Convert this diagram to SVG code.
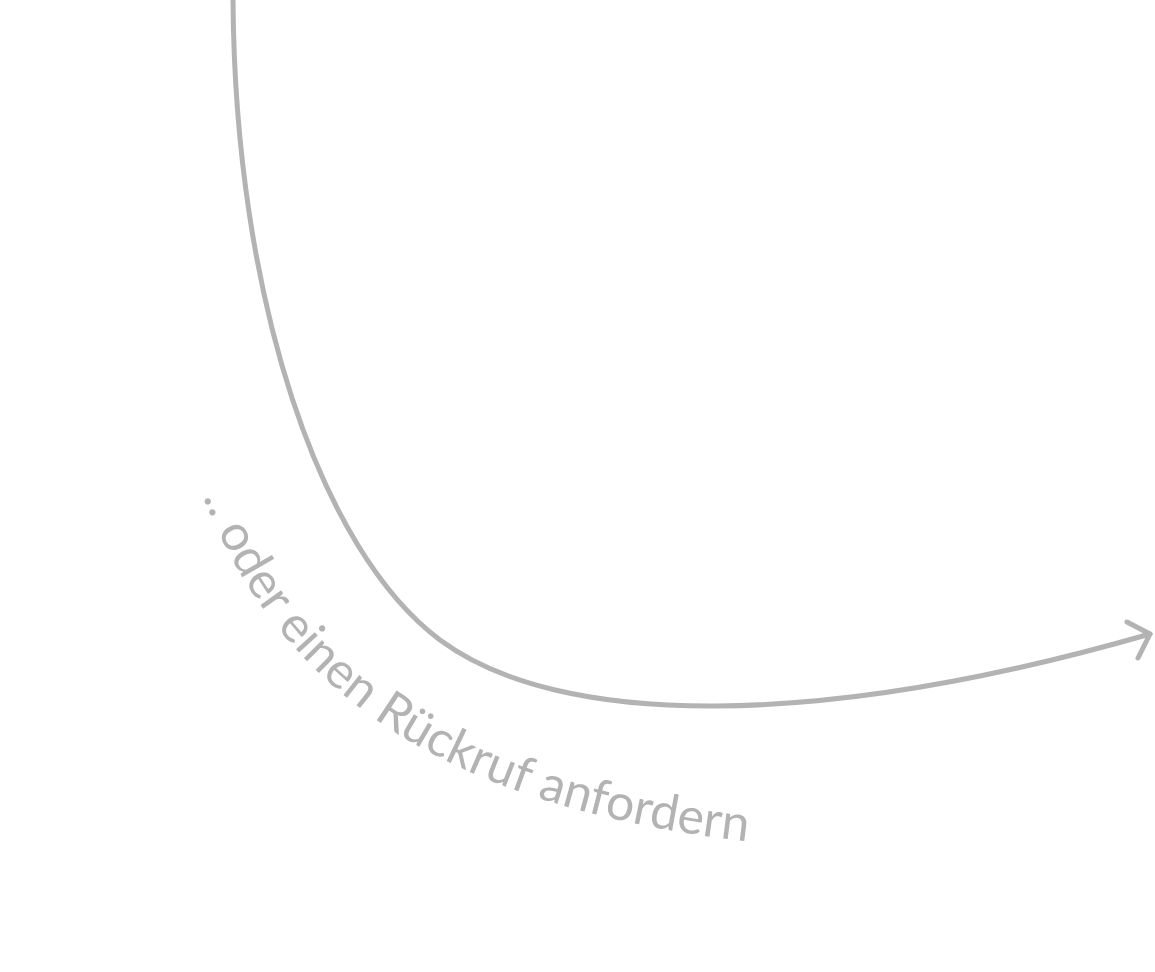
<svg xmlns="http://www.w3.org/2000/svg" width="1155" height="972" viewBox="0 0 1155 972">
<style>
.conn{fill:none;stroke:#b3b3b3;stroke-width:5;stroke-linecap:round;stroke-linejoin:round}
.lbl{font-family:Lato,"Open Sans",sans-serif;font-weight:400;font-size:50px;fill:#b3b3b3}
</style>
<defs>
<path id="tp" d="M 203,497 C 285,705 465,815 780,845"/>
</defs>
<rect width="1155" height="972" fill="#ffffff"/>
<g id="connectors">
<path class="conn" d="M 233,0 C 235,300 320,550 440,640 C 560,729 820,729 1150,634"/>
<path class="conn" d="M 1127,622 L 1150,634 L 1138,658"/>
</g>
<g id="label">
<text class="lbl"><textPath href="#tp">.. oder einen Rückruf anfordern</textPath></text>
</g>
</svg>
